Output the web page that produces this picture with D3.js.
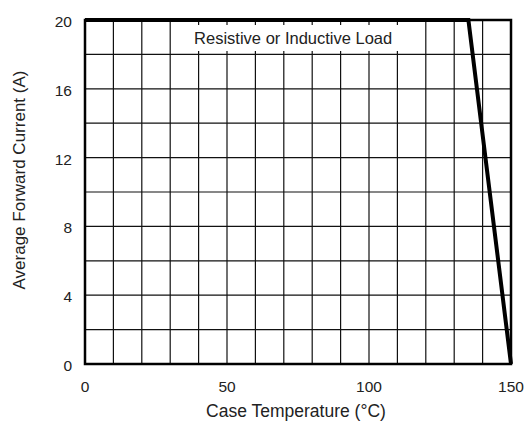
<!DOCTYPE html>
<html>
<head>
<meta charset="utf-8">
<script src="https://cdn.jsdelivr.net/npm/d3@7"></script>
<style>
  body { margin: 0; background: #fff; }
  text { font-family: "Liberation Sans", Arial, sans-serif; fill: #222; }
</style>
</head>
<body>
<svg id="chart" width="525" height="423"></svg>
<script>
// derating curve
var caseTemp = [0, 135, 150];
var fwdCurrent = [20, 20, 0];
var xTicks = [0, 50, 100, 150];
var yTicks = [0, 4, 8, 12, 16, 20];
var xGrid = d3.range(0, 151, 10);
var yGrid = d3.range(0, 21, 2);
var noteText = "Resistive or Inductive Load";

var margin = { left: 85, top: 20, right: 14, bottom: 59 };
var svg = d3.select("#chart");
var w = 525 - margin.left - margin.right;
var h = 423 - margin.top - margin.bottom;

var x = d3.scaleLinear().domain([0, 150]).range([0, w]);
var y = d3.scaleLinear().domain([0, 20]).range([h, 0]);

var g = svg.append("g").attr("transform", "translate(" + margin.left + "," + margin.top + ")");

// grid
g.selectAll(".vg").data(xGrid).enter().append("line")
  .attr("x1", function (d) { return x(d); }).attr("x2", function (d) { return x(d); })
  .attr("y1", 0).attr("y2", h)
  .style("stroke", "#111").style("stroke-width", 1.2);
g.selectAll(".hg").data(yGrid).enter().append("line")
  .attr("x1", 0).attr("x2", w)
  .attr("y1", function (d) { return y(d); }).attr("y2", function (d) { return y(d); })
  .style("stroke", "#111").style("stroke-width", 1.2);

// note box covering the grid
var note = g.append("text")
  .attr("x", x(73.3)).attr("y", 24)
  .attr("text-anchor", "middle")
  .style("font-size", "16.5px")
  .text(noteText);
var bb = note.node().getBBox();
g.insert("rect", "text")
  .attr("x", bb.x - 10).attr("y", 5)
  .attr("width", bb.width + 20).attr("height", 26)
  .style("fill", "#fff");

// frame
g.append("rect")
  .attr("x", 0).attr("y", 0).attr("width", w).attr("height", h)
  .style("fill", "none").style("stroke", "#000").style("stroke-width", 2.5);

// curve
var line = d3.line()
  .x(function (d, i) { return x(caseTemp[i]); })
  .y(function (d) { return y(d); });
g.append("path")
  .datum(fwdCurrent)
  .attr("d", line)
  .style("fill", "none").style("stroke", "#000").style("stroke-width", 4)
  .style("stroke-linejoin", "miter");

// tick labels
g.selectAll(".xl").data(xTicks).enter().append("text")
  .attr("x", function (d) { return x(d); }).attr("y", h + 28)
  .attr("text-anchor", "middle")
  .style("font-size", "15.5px")
  .text(function (d) { return d; });
g.selectAll(".yl").data(yTicks).enter().append("text")
  .attr("x", -13).attr("y", function (d) { return y(d) + 7; })
  .attr("text-anchor", "end")
  .style("font-size", "15.5px")
  .text(function (d) { return d; });

// axis titles
g.append("text")
  .attr("x", w / 2 - 2).attr("y", h + 53)
  .attr("text-anchor", "middle")
  .style("font-size", "17.5px")
  .text("Case Temperature (°C)");
g.append("text")
  .attr("transform", "translate(" + (-60) + "," + (h / 2 - 12) + ") rotate(-90)")
  .attr("text-anchor", "middle")
  .style("font-size", "17px")
  .text("Average Forward Current (A)");
</script>
</body>
</html>
